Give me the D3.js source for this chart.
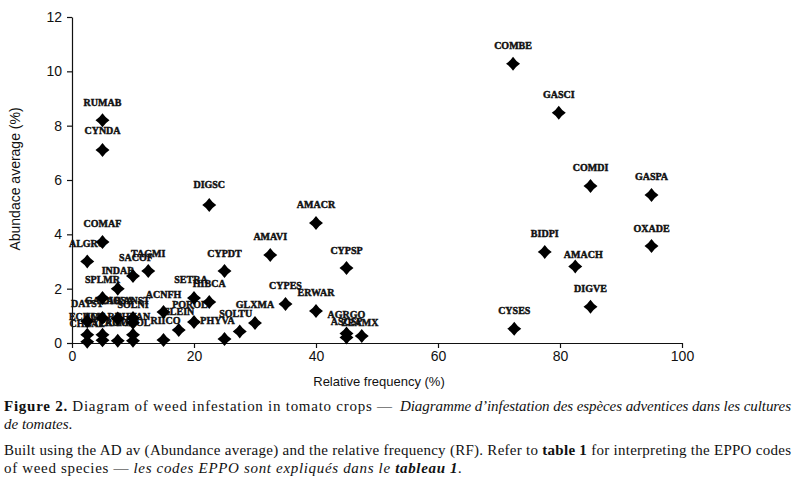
<!DOCTYPE html>
<html>
<head>
<meta charset="utf-8">
<script src="https://cdn.jsdelivr.net/npm/d3@7"></script>
<style>
  body { margin: 0; background: #fff; }
  svg { display: block; }
</style>
</head>
<body>
<svg id="chart" width="797" height="479"></svg>
<script>
// EPPO codes, relative frequency (%) and abundance average (%)
const codes = [
  "COMBE", "GASCI", "COMDI", "GASPA", "OXADE", "BIDPI", "AMACH", "DIGVE", "CYSES",
  "AMACR", "AMAVI", "CYPSP", "CYPES", "ERWAR", "AGRGO", "ASCSP", "ZEAMX",
  "DIGSC", "CYPDT", "SETRA", "HIBCA", "POROL", "ELEIN", "SOLTU", "GLXMA", "PHYVA", "RIICO", "ACNFH",
  "RUMAB", "CYNDA", "COMAF", "ALGRO", "TAGMI", "SACOF", "INDAB", "SPLMR",
  "GALAP", "DIGSA", "XANST", "DATST", "SOLNI",
  "ECHCG", "CHEAL", "AMARE", "CYPRO", "PANMA", "PHYAN", "SONOL"
];
const relFreq = [
  72.3, 79.8, 85.0, 95.0, 95.0, 77.5, 82.5, 85.0, 72.5,
  40.0, 32.5, 45.0, 35.0, 40.0, 45.0, 45.0, 47.5,
  22.5, 25.0, 20.0, 22.5, 20.0, 17.5, 27.5, 30.0, 25.0, 15.0, 15.0,
  5.0, 5.0, 5.0, 2.5, 12.5, 10.0, 7.5, 5.0,
  5.0, 7.5, 10.0, 2.5, 10.0,
  2.5, 2.5, 5.0, 5.0, 7.5, 10.0, 10.0
];
const abundance = [
  10.28, 8.48, 5.78, 5.45, 3.57, 3.35, 2.82, 1.33, 0.52,
  4.42, 3.24, 2.76, 1.44, 1.18, 0.35, 0.2, 0.26,
  5.08, 2.65, 1.66, 1.51, 0.77, 0.48, 0.42, 0.74, 0.15, 0.11, 1.14,
  8.2, 7.1, 3.72, 3.0, 2.65, 2.47, 2.0, 1.66,
  0.92, 0.9, 0.92, 0.8, 0.75,
  0.3, 0.05, 0.3, 0.1, 0.08, 0.3, 0.08
];
const xTicks = [0, 20, 40, 60, 80, 100];
const yTicks = [0, 2, 4, 6, 8, 10, 12];

const xTitle = "Relative frequency (%)";
const yTitle = "Abundace average (%)";

// caption segments: [text, style]
const captionLines = [
  [["Figure 2.", "b"], [" Diagram of weed infestation in tomato crops —", ""]],
  [["Diagramme d’infestation des espèces adventices dans les cultures", "i"]],
  [["de tomates", "i"], [".", ""]],
  [["Built using the AD av (Abundance average) and the relative frequency (RF). Refer to ", ""], ["table 1", "b"], [" for interpreting the EPPO codes", ""]],
  [["of weed species — ", ""], ["les codes EPPO sont expliqués dans le ", "i"], ["tableau 1", "bi"], [".", "i"]]
];

// label nudges where the original labels sit off-centre
const labelShift = {
  AMACH: [8, 6], ZEAMX: [-2, 5], ASCSP: [0, 2], AGRGO: [0, -1], SETRA: [-3, 0], POROL: [-4, 0],
  PHYVA: [-7, 0], SOLTU: [-4, 0], SACOF: [3, 0], RIICO: [2, -2], DIGSC: [0, -2], CYNDA: [0, -2]
};

const points = codes.map((c, i) => ({code: c, rf: relFreq[i], ab: abundance[i]}));

const svg = d3.select("#chart");

const x = d3.scaleLinear().domain([0, 100]).range([72, 682]);
const y = d3.scaleLinear().domain([0, 12]).range([343, 17]);

const axisFont = "'Liberation Sans', Arial, sans-serif";

const gx = svg.append("g")
  .attr("transform", `translate(0,${y(0)})`)
  .call(d3.axisBottom(x).tickValues(xTicks).tickSize(5).tickSizeOuter(0).tickPadding(3));

const gy = svg.append("g")
  .attr("transform", `translate(${x(0)},0)`)
  .call(d3.axisLeft(y).tickValues(yTicks).tickSize(5).tickSizeOuter(0).tickPadding(5));

[gx, gy].forEach(g => {
  g.selectAll("path, line").attr("stroke", "#111").attr("stroke-width", 1.2);
  g.selectAll("text").attr("font-family", axisFont).attr("font-size", 14).attr("fill", "#111");
});

svg.append("text")
  .attr("x", 379).attr("y", 386)
  .attr("text-anchor", "middle")
  .attr("font-family", axisFont).attr("font-size", 13).attr("fill", "#111")
  .text(xTitle);

svg.append("text")
  .attr("transform", "translate(20,179) rotate(-90)")
  .attr("text-anchor", "middle")
  .attr("font-family", axisFont).attr("font-size", 14).attr("fill", "#111")
  .text(yTitle);

// labels first, diamonds drawn over them
svg.append("g").selectAll("text")
  .data(points)
  .join("text")
  .attr("x", d => x(d.rf) + (labelShift[d.code] ? labelShift[d.code][0] : 0))
  .attr("y", d => y(d.ab) - 18 + (labelShift[d.code] ? labelShift[d.code][1] : 0))
  .attr("dy", "0.35em")
  .attr("text-anchor", "middle")
  .attr("font-family", "'Liberation Serif', 'Times New Roman', serif")
  .attr("font-weight", "bold")
  .attr("font-size", 10)
  .attr("fill", "#111")
  .attr("stroke", "#111")
  .attr("stroke-width", 0.45)
  .text(d => d.code);

const diamond = {
  draw(ctx, size) {
    const r = Math.sqrt(size) / 2, k = r * 0.4;
    ctx.moveTo(0, -r);
    ctx.quadraticCurveTo(k, -k, r, 0);
    ctx.quadraticCurveTo(k, k, 0, r);
    ctx.quadraticCurveTo(-k, k, -r, 0);
    ctx.quadraticCurveTo(-k, -k, 0, -r);
    ctx.closePath();
  }
};

svg.append("g").selectAll("path")
  .data(points)
  .join("path")
  .attr("transform", d => `translate(${x(d.rf)},${y(d.ab)})`)
  .attr("d", d3.symbol(diamond, 196))
  .attr("fill", "#000");

// caption, each segment stretched to the span it covers in the original
const capX = [4, 400, 4, 4, 4];
const capY = [411, 411, 429, 455, 473];
const capLen = [388, 391, null, 787, 458];
const cap = svg.append("g")
  .attr("font-family", "'Liberation Serif', 'Times New Roman', serif")
  .attr("font-size", 15)
  .attr("fill", "#111");

captionLines.forEach((parts, i) => {
  const t = cap.append("text").attr("x", capX[i]).attr("y", capY[i]).attr("xml:space", "preserve");
  parts.forEach(([s, f]) => {
    t.append("tspan")
      .attr("font-weight", f.includes("b") ? "bold" : null)
      .attr("font-style", f.includes("i") ? "italic" : null)
      .text(s);
  });
  if (capLen[i]) t.attr("textLength", capLen[i]).attr("lengthAdjust", "spacing");
});
</script>
</body>
</html>
